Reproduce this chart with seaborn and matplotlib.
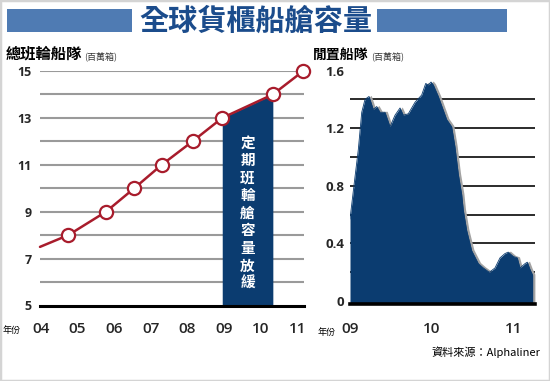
import matplotlib
matplotlib.use("Agg")
import matplotlib.pyplot as plt
import matplotlib.transforms as mtransforms
from matplotlib.patches import Rectangle
import seaborn as sns
import pandas as pd

# ---------------- data ----------------
title = "全球貨櫃船艙容量"
left_title = "總班輪船隊"
right_title = "閒置船隊"
unit_label = "(百萬箱)"
year_label = "年份"
source_text = "資料來源：Alphaliner"
note_text = "定期班輪艙容量放緩"

fleet_years = [2003.98, 2004.75, 2005.78, 2006.55, 2007.30, 2008.14, 2008.95, 2010.33, 2011.16]
fleet_teu = [7.5, 8, 9, 10, 11, 12, 13, 14, 15]
left_xticks = [2004, 2005, 2006, 2007, 2008, 2009, 2010, 2011]
left_xticklabels = ["04", "05", "06", "07", "08", "09", "10", "11"]
left_yticks = [5, 7, 9, 11, 13, 15]
left_yticklabels = ["5", "7", "9", "11", "13", "15"]

idle_years = [2009.000, 2009.052, 2009.101, 2009.143, 2009.183, 2009.232, 2009.284,
              2009.326, 2009.366, 2009.427, 2009.488, 2009.549, 2009.610, 2009.650,
              2009.711, 2009.793, 2009.874, 2009.923, 2009.955, 2009.988, 2010.016,
              2010.077, 2010.179, 2010.240, 2010.280, 2010.321, 2010.362, 2010.382,
              2010.423, 2010.484, 2010.565, 2010.626, 2010.699, 2010.768, 2010.829,
              2010.890, 2010.930, 2010.991, 2011.040, 2011.073, 2011.134, 2011.162,
              2011.195, 2011.228]
idle_teu = [0.57, 0.82, 1.05, 1.31, 1.40, 1.42, 1.33,
            1.35, 1.31, 1.31, 1.21, 1.29, 1.34, 1.29,
            1.30, 1.38, 1.43, 1.51, 1.50, 1.52, 1.50,
            1.42, 1.26, 1.21, 1.07, 0.88, 0.74, 0.63,
            0.49, 0.35, 0.26, 0.23, 0.20, 0.23, 0.30,
            0.33, 0.34, 0.31, 0.30, 0.23, 0.26, 0.27,
            0.22, 0.18]
right_xticks = [2009, 2010, 2011]
right_xticklabels = ["09", "10", "11"]
right_yticks = [0, 0.4, 0.8, 1.2, 1.6]
right_yticklabels = ["0", "0.4", "0.8", "1.2", "1.6"]
right_grid = [0.2, 0.4, 0.6, 0.8, 1.0, 1.2, 1.4, 1.6]

# ---------------- style ----------------
sns.set_theme(style="white")
CJK = ["Noto Sans CJK TC", "DejaVu Sans"]
NUM = ["Open Sans", "DejaVu Sans"]
plt.rcParams["font.family"] = CJK

NAVY = "#0b3c70"
RED = "#a81c2c"
BAR_BLUE = "#4f7bb3"
TITLE_BLUE = "#1b4c8c"

W, H = 550, 381
fig = plt.figure(figsize=(W / 100, H / 100), dpi=100)
fig.patch.set_facecolor("white")

def fx(px):
    return px / W

def fy(py):
    return 1 - py / H

# ---------------- left chart ----------------
axL = fig.add_axes([fx(40), fy(305.5), fx(264), (305.5 - 71) / H])
dfL = pd.DataFrame({"year": fleet_years, "teu": fleet_teu})
for v in range(6, 16):
    axL.axhline(v, color="#9a9a9a", lw=1.5, zorder=0)
axL.fill_between(fleet_years[6:8], fleet_teu[6:8], 5, color=NAVY, lw=0, zorder=1)
sns.lineplot(data=dfL, x="year", y="teu", ax=axL, color=RED, lw=1.8, marker="o",
             markersize=9.5, markerfacecolor="white", markeredgecolor=RED,
             markeredgewidth=1.6, markevery=list(range(1, len(fleet_years))),
             clip_on=False, zorder=3)
axL.text((fleet_years[6] + fleet_years[7]) / 2, 8.95, "\n".join(note_text),
         color="white", fontsize=10.5, fontweight="bold", ha="center", va="center",
         linespacing=1.12, family=CJK, zorder=4)
axL.set_xlim(2003.98, 2011.18)
axL.set_ylim(5, 15)
axL.set_xticks(left_xticks)
axL.set_xticklabels(left_xticklabels, family=NUM, fontsize=11, fontweight="semibold")
axL.set_yticks(left_yticks)
axL.set_yticklabels(left_yticklabels, family=NUM, fontsize=9, fontweight="bold")
axL.set_xlabel("")
axL.set_ylabel("")
for s in ["top", "right", "left"]:
    axL.spines[s].set_visible(False)
axL.spines["bottom"].set_color("black")
axL.spines["bottom"].set_linewidth(2.2)
axL.tick_params(axis="x", direction="out", length=9, width=2, color="black", pad=3)
axL.tick_params(axis="y", length=0, pad=6)
axL.set_facecolor("none")

# ---------------- right chart ----------------
axR = fig.add_axes([fx(350), fy(304), fx(184.5), (304 - 70.5) / H])
dfR = pd.DataFrame({"year": idle_years, "teu": idle_teu})
for v in right_grid:
    axR.axhline(v, color="#1a1a1a", lw=1.3, zorder=0)
ylo = -0.02
shadow = mtransforms.offset_copy(axR.transData, fig=fig, x=2.2, y=1.0, units="dots")
axR.fill_between(idle_years, idle_teu, ylo, color="#a3a3a3", lw=0, transform=shadow, zorder=1)
axR.fill_between(idle_years, idle_teu, ylo, color=NAVY, lw=0, zorder=2)
sns.lineplot(data=dfR, x="year", y="teu", ax=axR, color=NAVY, lw=0.6, zorder=2)
axR.set_xlim(2009, 2011.25)
axR.set_ylim(ylo, 1.6)
axR.set_xticks(right_xticks)
axR.set_xticklabels(right_xticklabels, family=NUM, fontsize=11, fontweight="semibold")
axR.set_yticks(right_yticks)
axR.set_yticklabels(right_yticklabels, family=NUM, fontsize=9.5, fontweight="bold")
axR.set_xlabel("")
axR.set_ylabel("")
for s in ["top", "right", "left"]:
    axR.spines[s].set_visible(False)
axR.spines["bottom"].set_color("black")
axR.spines["bottom"].set_linewidth(2.6)
axR.spines["bottom"].set_zorder(5)
axR.tick_params(axis="x", direction="out", length=10, width=2, color="black", pad=3)
axR.tick_params(axis="y", length=0, pad=4)
axR.set_facecolor("none")

# ---------------- titles & texts ----------------
fig.patches.append(Rectangle((fx(7), fy(32)), fx(125), 23 / H, transform=fig.transFigure,
                             facecolor=BAR_BLUE, edgecolor="none"))
fig.patches.append(Rectangle((fx(377), fy(32)), fx(130), 23 / H, transform=fig.transFigure,
                             facecolor=BAR_BLUE, edgecolor="none"))
fig.text(fx(256), fy(21), title, ha="center", va="center", fontsize=21,
         fontweight="black", color=TITLE_BLUE, family=CJK)

fig.text(fx(6), fy(59), left_title, ha="left", va="baseline", fontsize=11,
         fontweight="bold", color="black", family=CJK)
fig.text(fx(84), fy(59), unit_label, ha="left", va="baseline", fontsize=6.5,
         color="#333333", family=CJK)
fig.text(fx(313), fy(59), right_title, ha="left", va="baseline", fontsize=10,
         fontweight="bold", color="black", family=CJK)
fig.text(fx(371), fy(59), unit_label, ha="left", va="baseline", fontsize=6.5,
         color="#333333", family=CJK)

fig.text(fx(3), fy(331), year_label, ha="left", va="center", fontsize=6.5,
         color="black", family=CJK)
fig.text(fx(318), fy(332), year_label, ha="left", va="center", fontsize=6.5,
         color="black", family=CJK)
fig.text(fx(540), fy(352), source_text, ha="right", va="center", fontsize=8,
         color="black", family=CJK)

fig.patches.append(Rectangle((0, 0), 1, 1, transform=fig.transFigure, facecolor="none",
                             edgecolor="#d4d4d4", lw=2.5))

fig.savefig("out.png", dpi=100)
